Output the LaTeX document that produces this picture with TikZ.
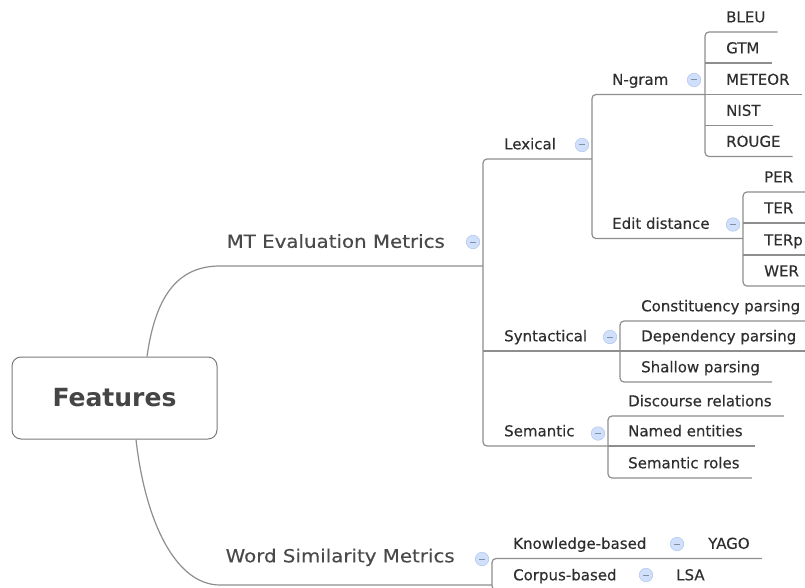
\documentclass[tikz,border=0pt]{standalone}
\usepackage{fontspec}
\setmainfont{DejaVu Sans}
\newfontfamily\leaffont[FakeBold=0.3]{DejaVu Sans}
\newfontfamily\bigfont[FakeStretch=1.1,FakeBold=0.3]{DejaVu Sans}
\usetikzlibrary{calc}
\definecolor{lin}{HTML}{8E8E8E}
\definecolor{txt}{HTML}{2E2E2E}
\definecolor{txtb}{HTML}{4A4A4A}
\definecolor{ftxt}{HTML}{454545}
\definecolor{boxline}{HTML}{7A7A7A}
\definecolor{togfill}{HTML}{D0DFFA}
\definecolor{togline}{HTML}{B4C9F0}
\definecolor{togminus}{HTML}{8090A8}
\tikzset{
  lvl/.style={anchor=south west, inner xsep=12pt, inner ysep=9.5pt, text depth=0pt,
    font=\leaffont\fontsize{15}{18}\selectfont, text=txt},
  toplvl/.style={anchor=south west, inner xsep=0pt, text depth=0pt,
    font=\bigfont\fontsize{18}{22}\selectfont, text=txtb},
  ln/.style={draw=lin, line width=1.2pt},
  br/.style={ln, rounded corners=4pt},
  tog/.style={circle, minimum size=13.5pt, inner sep=0pt, fill=togfill, draw=togline, line width=0.6pt,
    path picture={\draw[togminus, line width=1pt]
      ([xshift=-3pt]path picture bounding box.center) -- ([xshift=3pt]path picture bounding box.center);}},
  fbox/.style={draw=boxline, line width=1pt, rounded corners=9pt, fill=white,
    minimum width=205pt, minimum height=82pt, inner sep=0pt,
    font=\bfseries\fontsize{25}{30}\selectfont, text=ftxt}
}
\begin{document}
\begin{tikzpicture}[x=1pt,y=-1pt]
\useasboundingbox (0,0) rectangle (805,588);
\clip (0,0) rectangle (805,588);

% bracket columns
\coordinate (mtb) at (483,0);
\coordinate (wsb) at (492,0);
\coordinate (lexb) at (592,0);
\coordinate (ngb) at (705,0);
\coordinate (edb) at (743,0);
\coordinate (synb) at (620,0);
\coordinate (semb) at (608,0);

% root
\node[fbox] (features) at (114.5,398) {Features};

% level 1
\node[toplvl, inner ysep=18pt] (mt) at (226.5,266) {MT Evaluation Metrics};
\node[toplvl, inner ysep=22.5pt] (ws) at (225.5,585) {Word Similarity Metrics};

% level 2 under MT
\node[lvl] (lex) at (492,159) {Lexical};
\node[lvl] (syn) at (492,351) {Syntactical};
\node[lvl] (sem) at (492,446) {Semantic};

% level 3 under Lexical
\node[lvl] (ngram) at (600,94.5) {N-gram};
\node[lvl] (edit) at (600,238.5) {Edit distance};

% N-gram leaves
\node[lvl] (bleu) at (714,32) {BLEU};
\node[lvl] (gtm) at (714,63) {GTM};
\node[lvl] (meteor) at (714,94.5) {METEOR};
\node[lvl] (nist) at (714,125.5) {NIST};
\node[lvl] (rouge) at (714,156.5) {ROUGE};

% Edit distance leaves
\node[lvl] (per) at (752,192) {PER};
\node[lvl] (ter) at (752,223) {TER};
\node[lvl] (terp) at (752,255) {TERp};
\node[lvl] (wer) at (752,286) {WER};

% Syntactical leaves
\node[lvl] (cons) at (629,321) {Constituency parsing};
\node[lvl] (dep) at (629,351) {Dependency parsing};
\node[lvl] (shal) at (629,382) {Shallow parsing};

% Semantic leaves
\node[lvl] (disc) at (616,416) {Discourse relations};
\node[lvl] (named) at (616,446) {Named entities};
\node[lvl] (roles) at (616,478) {Semantic roles};

% Word similarity children
\node[lvl] (know) at (501,558.5) {Knowledge-based};
\node[lvl] (corp) at (501,590) {Corpus-based};
\node[lvl] (yago) at (696,558.5) {YAGO};
\node[lvl] (lsa) at (664,590) {LSA};

% root connectors
\draw[ln] ($(features.north)+(32.5,0)$) .. controls (155,300) and (175,266) .. (220,266) -- (mt.south west -| mtb);
\draw[ln] ($(features.south)+(21.5,0)$) .. controls (145,520) and (175,585) .. (220,585) -- (ws.south west -| wsb);

% MT bracket
\draw[br] (lex.south -| lexb) -- (lex.south -| mtb) -- (sem.south -| mtb) -- (sem.south -| semb);
\draw[ln] (syn.south -| mtb) -- (syn.south -| synb);

% Lexical bracket
\draw[br] (ngram.south -| ngb) -- (ngram.south -| lexb) -- (edit.south -| lexb) -- (edit.south -| edb);

% N-gram bracket
\draw[br] (bleu.south east) -- (bleu.south -| ngb) -- (rouge.south -| ngb) -- (rouge.south east);
\draw[ln] (gtm.south -| ngb) -- (gtm.south east);
\draw[ln] (meteor.south -| ngb) -- (meteor.south east);
\draw[ln] (nist.south -| ngb) -- (nist.south east);

% Edit bracket
\draw[br] (per.south east) -- (per.south -| edb) -- (wer.south -| edb) -- (wer.south east);
\draw[ln] (ter.south -| edb) -- (ter.south east);
\draw[ln] (terp.south -| edb) -- (terp.south east);

% Syntactical bracket
\draw[br] (cons.south east) -- (cons.south -| synb) -- (shal.south -| synb) -- (shal.south east);
\draw[ln] (dep.south -| synb) -- (dep.south east);

% Semantic bracket
\draw[br] (disc.south east) -- (disc.south -| semb) -- (roles.south -| semb) -- (roles.south east);
\draw[ln] (named.south -| semb) -- (named.south east);

% WS bracket
\draw[br] (yago.south east) -- (know.south -| wsb) -- (corp.south -| wsb) -- (lsa.south east);

% toggles
\node[tog] (tmt) at (473,242) {};
\node[tog] (tws) at (482,559) {};
\node[tog] (tlex) at (582,145) {};
\node[tog] (tng) at (694,80) {};
\node[tog] (ted) at (733,224.5) {};
\node[tog] (tsyn) at (610,337) {};
\node[tog] (tsem) at (598,433.5) {};
\node[tog] (tknow) at (677,544) {};
\node[tog] (tcorp) at (646,575) {};
\end{tikzpicture}
\end{document}
